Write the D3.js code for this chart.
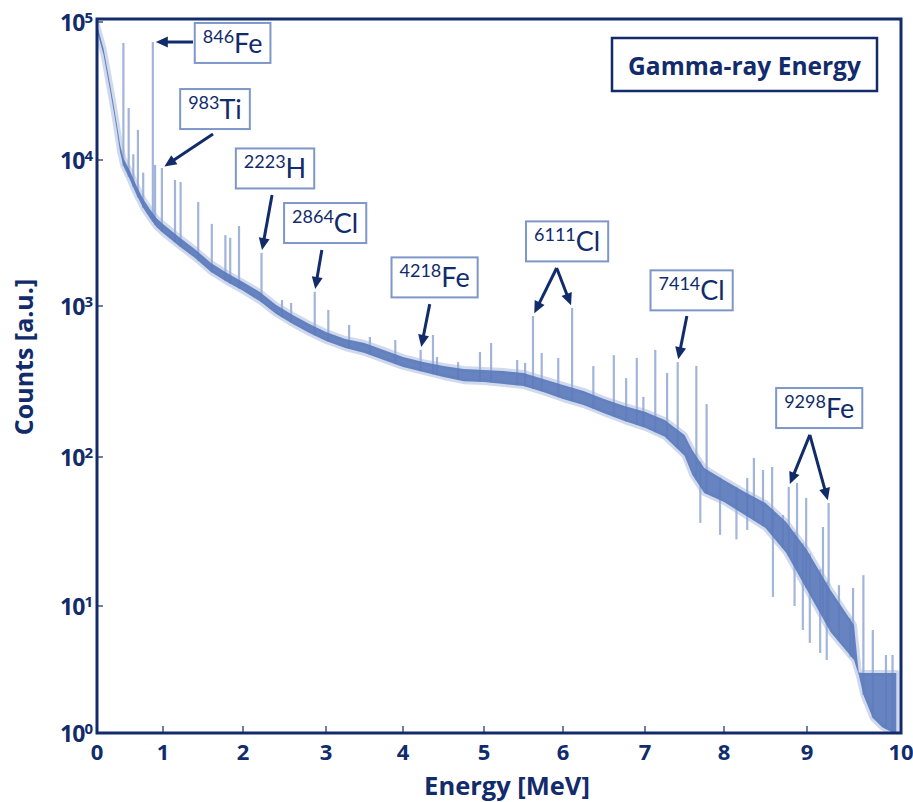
<!DOCTYPE html>
<html>
<head>
<meta charset="utf-8">
<script src="https://cdn.jsdelivr.net/npm/d3@7"></script>
<style>
  html, body { margin: 0; padding: 0; background: #ffffff; }
  svg { display: block; font-family: Lato, "Open Sans", sans-serif; }
  .bold { font-family: "Open Sans", Lato, sans-serif; font-weight: 700; }
</style>
</head>
<body>
<svg id="chart" width="913" height="802"></svg>
<script>
// ---- continuum band: energy grid (MeV) with upper / lower envelope (counts)
const bandEnergy = [0, 0.05, 0.1, 0.15, 0.2, 0.25, 0.3, 0.35, 0.4, 0.5, 0.6, 0.7, 0.8, 0.9, 1.0,
  1.2, 1.4, 1.6, 1.8, 2.0, 2.2, 2.4, 2.6, 2.8, 3.0, 3.25, 3.5, 3.75, 4.0, 4.25, 4.5, 4.75, 5.0,
  5.25, 5.5, 5.75, 6.0, 6.25, 6.5, 6.75, 7.0, 7.25, 7.5, 7.6, 7.75, 8.0, 8.25, 8.5, 8.75, 9.0,
  9.25, 9.5, 9.55, 9.6, 9.7, 9.8, 9.9, 9.95];
const bandUpper = [95000, 77800, 63700, 47200, 34900, 25500, 18200, 12900, 10300, 8400, 6640, 5400,
  4610, 4010, 3650, 2970, 2450, 1970, 1680, 1460, 1250, 1015, 872, 760, 673, 604, 569, 512, 459,
  425, 401, 383, 377, 371, 360, 329, 300, 274, 242, 218, 199, 176, 140, 111, 84.4, 70.2, 58.2,
  49.1, 36.6, 23.8, 12.8, 7.1, 3.0, 2.97, 2.97, 2.97, 2.97, 2.97];
const bandLower = [86000, 70500, 57700, 42700, 31600, 23000, 16500, 11400, 9100, 7300, 5750, 4690,
  4010, 3470, 3160, 2580, 2130, 1710, 1460, 1270, 1080, 885, 760, 662, 586, 527, 489, 439, 395,
  366, 339, 318, 314, 304, 295, 269, 242, 221, 195, 173, 156, 136, 102, 75.7, 57.3, 49.9, 40.8,
  33.4, 22.7, 12.8, 6.24, 3.76, 2.87, 1.99, 1.31, 1.11, 1.02, 1.0];

// ---- full-energy peaks (MeV, peak counts)
const peakEnergy = [0.40, 0.48, 0.55, 0.62, 0.70, 0.846, 0.88, 0.983, 1.15, 1.22, 1.44, 1.61, 1.78,
  1.84, 1.95, 2.223, 2.47, 2.58, 2.864, 3.03, 3.3, 3.57, 3.9, 4.218, 4.37, 4.42, 4.68, 4.95, 5.09,
  5.42, 5.52, 5.62, 5.73, 5.94, 6.111, 6.37, 6.62, 6.77, 6.90, 6.98, 7.13, 7.28, 7.414, 7.65, 7.78,
  8.28, 8.36, 8.47, 8.58, 8.71, 8.78, 8.88, 8.99, 9.17, 9.23, 9.34, 9.49, 9.60, 9.70, 9.84, 9.91];
const peakCounts = [70500, 23800, 11000, 16500, 8200, 71600, 9240, 8810, 7300, 7060, 5150, 3650, 3060,
  2930, 3530, 2310, 1100, 1050, 1250, 942, 748, 624, 595, 512, 643, 459, 425, 496, 569, 439, 420,
  859, 489, 453, 970, 400, 473, 333, 453, 250, 512, 360, 425, 401, 224, 72.3, 98.5, 81.8, 85.7,
  40.8, 63.0, 67.0, 53.1, 33.9, 49.1, 13.8, 13.2, 16.1, 6.47, 4.11, 4.11];

// ---- downward fluctuations in the high-energy tail
const dipEnergy = [7.70, 7.95, 8.15, 8.28, 8.59, 8.85, 8.95, 9.03, 9.14, 9.21, 9.46];
const dipCounts = [36.1, 30, 28, 32.4, 11.5, 10, 6.47, 5.12, 4.27, 3.76, 3.96];

// ---- axes
const xTicks = [0, 1, 2, 3, 4, 5, 6, 7, 8, 9, 10];
const yTicks = [1, 10, 100, 1000, 10000, 100000];
const yExponents = ["0", "1", "2", "3", "4", "5"];

// ---- line identifications
const labelMass = ["846", "983", "2223", "2864", "4218", "6111", "7414", "9298"];
const labelElement = ["Fe", "Ti", "H", "Cl", "Fe", "Cl", "Cl", "Fe"];
const labelEnergy = [1.87, 1.65, 2.386, 2.99, 4.39, 6.05, 7.59, 9.13];
const labelCounts = [70500, 23400, 8750, 3700, 1570, 2770, 1280, 211];
const arrowFromEnergy = [1.375, 1.625, 2.35, 2.95, 4.33, 5.92, 7.53, 9.03];
const arrowFromCounts = [71600, 15400, 5750, 2420, 1030, 1820, 859, 140];
const arrowTargets = [[0.846], [0.983], [2.223], [2.864], [4.218], [5.62, 6.111], [7.414], [8.78, 9.23]];

const navy = "#112b6b";

const svg = d3.select("#chart");

const x = d3.scaleLinear()
  .domain(xTicks)
  .range([97, 163, 243, 326, 403, 484, 563, 645, 724, 807, 901]);
const y = d3.scaleLog()
  .domain(yTicks)
  .range([733, 606, 457, 306, 160, 22]);

const upperAt = d3.scaleLinear().domain(bandEnergy).range(bandUpper).clamp(true);
const lowerAt = d3.scaleLinear().domain(bandEnergy).range(bandLower).clamp(true);

svg.append("defs").append("clipPath").attr("id", "plot-clip")
  .append("rect").attr("x", 97).attr("y", 19).attr("width", 804).attr("height", 714);

const plot = svg.append("g").attr("clip-path", "url(#plot-clip)");

const band = bandEnergy.map((e, i) => ({ e, hi: bandUpper[i], lo: bandLower[i] }));

// dips below the band
plot.append("g").selectAll("line").data(dipEnergy).join("line")
  .attr("x1", d => x(d)).attr("x2", d => x(d))
  .attr("y1", d => y(upperAt(d)))
  .attr("y2", (d, i) => y(dipCounts[i]))
  .attr("stroke", "#7f97cc").attr("stroke-width", 2.2).attr("stroke-opacity", 0.7);

// peaks above the band
plot.append("g").selectAll("line").data(peakEnergy).join("line")
  .attr("x1", d => x(d)).attr("x2", d => x(d))
  .attr("y1", d => y(lowerAt(d)))
  .attr("y2", (d, i) => y(peakCounts[i]))
  .attr("stroke", "#7b94cb").attr("stroke-width", 2.2).attr("stroke-opacity", 0.7);

const area = d3.area()
  .x(d => x(d.e))
  .y0(d => y(d.lo))
  .y1(d => y(d.hi));

// soft halo then the continuum band
plot.append("path").datum(band).attr("d", area)
  .attr("fill", "none").attr("stroke", "#98acd8").attr("stroke-width", 6)
  .attr("stroke-opacity", 0.45).attr("stroke-linejoin", "round");
plot.append("path").datum(band).attr("d", area)
  .attr("fill", "#5a79bb").attr("fill-opacity", 0.92);

// ---- frame and ticks
const frame = svg.append("g");
frame.append("rect")
  .attr("x", 97).attr("y", 19).attr("width", 804).attr("height", 714)
  .attr("fill", "none").attr("stroke", navy).attr("stroke-width", 3);

frame.selectAll(".xt").data(xTicks.slice(1, -1)).join("line")
  .attr("x1", d => x(d)).attr("x2", d => x(d))
  .attr("y1", 733).attr("y2", 726)
  .attr("stroke", navy).attr("stroke-width", 1.2);
frame.selectAll(".yt").data(yTicks.slice(1)).join("line")
  .attr("x1", 97).attr("x2", 103)
  .attr("y1", d => y(d)).attr("y2", d => y(d))
  .attr("stroke", navy).attr("stroke-width", 1.2);

// x tick labels
svg.append("g").selectAll("text").data(xTicks).join("text")
  .attr("class", "bold")
  .attr("x", d => x(d)).attr("y", 760)
  .attr("text-anchor", "middle")
  .attr("font-size", 22).attr("fill", navy)
  .text(d => d);

// y tick labels as powers of ten
const yl = svg.append("g").selectAll("text").data(yTicks).join("text")
  .attr("class", "bold")
  .attr("x", 93).attr("y", d => y(d) + 9)
  .attr("text-anchor", "end")
  .attr("font-size", 23).attr("fill", navy);
yl.append("tspan").attr("letter-spacing", -1).text("10");
yl.append("tspan").attr("dy", -8).attr("font-size", 15).text((d, i) => yExponents[i]);

// axis titles
svg.append("text")
  .attr("class", "bold")
  .attr("x", 507).attr("y", 795)
  .attr("text-anchor", "middle")
  .attr("font-size", 25.5).attr("fill", navy)
  .text("Energy [MeV]");
svg.append("text")
  .attr("class", "bold")
  .attr("transform", "translate(33,357) rotate(-90)")
  .attr("text-anchor", "middle")
  .attr("font-size", 25).attr("fill", navy)
  .text("Counts [a.u.]");

// ---- title box
const tb = svg.append("g");
tb.append("rect")
  .attr("x", 612).attr("y", 38).attr("width", 265).attr("height", 53)
  .attr("fill", "#ffffff").attr("stroke", navy).attr("stroke-width", 2.5);
tb.append("text")
  .attr("class", "bold")
  .attr("x", 744.5).attr("y", 75)
  .attr("text-anchor", "middle")
  .attr("font-size", 24.5).attr("fill", navy)
  .text("Gamma-ray Energy");

// ---- line identification labels with arrows
const ann = svg.append("g");
function peakTop(e) {
  let best = 0;
  peakEnergy.forEach((p, i) => { if (Math.abs(p - e) < Math.abs(peakEnergy[best] - e)) best = i; });
  return [x(peakEnergy[best]), y(peakCounts[best])];
}
function arrow(x0, y0, x1, y1) {
  const dx = x1 - x0, dy = y1 - y0, len = Math.hypot(dx, dy);
  const ux = dx / len, uy = dy / len;
  const gap = 3, head = 12, half = 5.5;
  const tx = x1 - ux * gap, ty = y1 - uy * gap;
  const bx = tx - ux * head, by = ty - uy * head;
  ann.append("line")
    .attr("x1", x0).attr("y1", y0).attr("x2", bx + ux * 1).attr("y2", by + uy * 1)
    .attr("stroke", navy).attr("stroke-width", 3);
  ann.append("path")
    .attr("d", `M${tx},${ty}L${bx - uy * half},${by + ux * half}L${bx + uy * half},${by - ux * half}Z`)
    .attr("fill", navy);
}

labelMass.forEach((m, i) => {
  const cx = x(labelEnergy[i]), cy = y(labelCounts[i]);
  const g = ann.append("g");
  const box = g.append("rect").attr("fill", "#ffffff").attr("stroke", "#7e97c9").attr("stroke-width", 2);
  const t = g.append("text").attr("fill", navy).attr("x", cx).attr("y", cy + 10)
    .attr("text-anchor", "middle");
  t.append("tspan").attr("font-size", 18).attr("dy", -10).text(m);
  t.append("tspan").attr("font-size", 27).attr("dy", 10).text(labelElement[i]);
  const bb = t.node().getBBox();
  box.attr("x", bb.x - 8).attr("y", cy - 20).attr("width", bb.width + 16).attr("height", 40);

  const fx = x(arrowFromEnergy[i]), fy = y(arrowFromCounts[i]);
  arrowTargets[i].forEach(e => {
    const [px, py] = peakTop(e);
    arrow(fx, fy, px, py);
  });
});
</script>
</body>
</html>
